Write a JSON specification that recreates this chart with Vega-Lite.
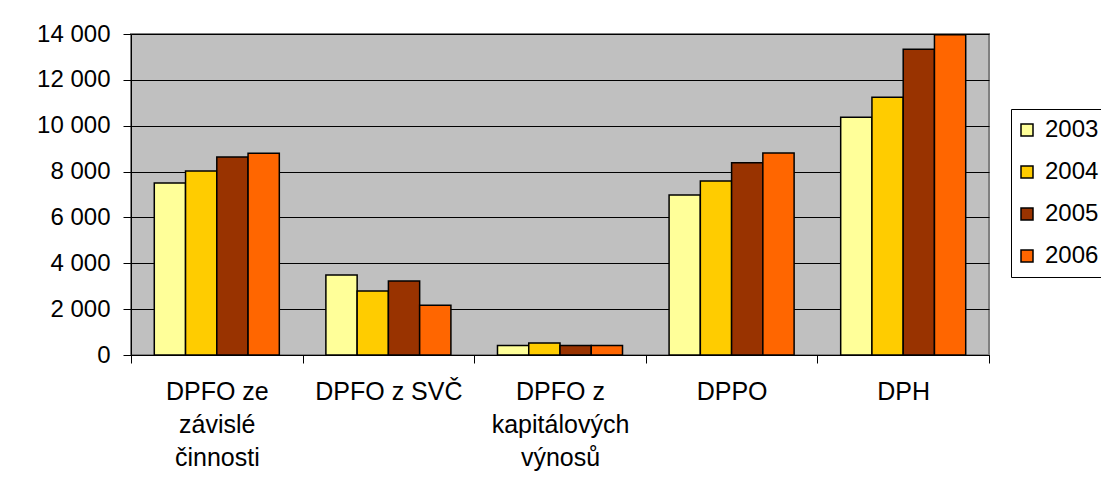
{
  "$schema": "https://vega.github.io/schema/vega-lite/v6.json",
  "width": 858,
  "height": 321,
  "autosize": {"type": "none"},
  "padding": {"left": 131, "top": 34, "right": 112, "bottom": 144},
  "background": "#ffffff",
  "data": {
    "values": [
      {"dan": "DPFO ze závislé činnosti", "rok": "2003", "hodnota": 7500},
      {"dan": "DPFO ze závislé činnosti", "rok": "2004", "hodnota": 8030},
      {"dan": "DPFO ze závislé činnosti", "rok": "2005", "hodnota": 8640},
      {"dan": "DPFO ze závislé činnosti", "rok": "2006", "hodnota": 8800},
      {"dan": "DPFO z SVČ", "rok": "2003", "hodnota": 3490},
      {"dan": "DPFO z SVČ", "rok": "2004", "hodnota": 2790},
      {"dan": "DPFO z SVČ", "rok": "2005", "hodnota": 3230},
      {"dan": "DPFO z SVČ", "rok": "2006", "hodnota": 2170},
      {"dan": "DPFO z kapitálových výnosů", "rok": "2003", "hodnota": 410},
      {"dan": "DPFO z kapitálových výnosů", "rok": "2004", "hodnota": 520},
      {"dan": "DPFO z kapitálových výnosů", "rok": "2005", "hodnota": 410},
      {"dan": "DPFO z kapitálových výnosů", "rok": "2006", "hodnota": 410},
      {"dan": "DPPO", "rok": "2003", "hodnota": 6980},
      {"dan": "DPPO", "rok": "2004", "hodnota": 7590},
      {"dan": "DPPO", "rok": "2005", "hodnota": 8380},
      {"dan": "DPPO", "rok": "2006", "hodnota": 8810},
      {"dan": "DPH", "rok": "2003", "hodnota": 10370},
      {"dan": "DPH", "rok": "2004", "hodnota": 11240},
      {"dan": "DPH", "rok": "2005", "hodnota": 13330},
      {"dan": "DPH", "rok": "2006", "hodnota": 13970}
    ]
  },
  "mark": {"type": "bar", "stroke": "#000000", "strokeWidth": 1.5, "strokeJoin": "miter"},
  "encoding": {
    "x": {
      "field": "dan",
      "type": "nominal",
      "sort": null,
      "scale": {"paddingInner": 0, "paddingOuter": 0},
      "axis": {
        "title": null,
        "labelAngle": 0,
        "tickBand": "extent",
        "domainColor": "#000000",
        "tickColor": "#000000",
        "tickSize": 8,
        "labelFont": "Liberation Sans",
        "labelFontSize": 25,
        "labelColor": "#000000",
        "labelPadding": 16,
        "labelLineHeight": 33,
        "labelBaseline": "top",
        "labelExpr": "datum.value == 'DPFO ze závislé činnosti' ? ['DPFO ze', 'závislé', 'činnosti'] : datum.value == 'DPFO z kapitálových výnosů' ? ['DPFO z', 'kapitálových', 'výnosů'] : datum.value"
      }
    },
    "xOffset": {
      "field": "rok",
      "type": "nominal",
      "scale": {"paddingInner": 0, "paddingOuter": 0.745}
    },
    "y": {
      "field": "hodnota",
      "type": "quantitative",
      "scale": {"domain": [0, 14000], "nice": false},
      "axis": {
        "title": null,
        "values": [0, 2000, 4000, 6000, 8000, 10000, 12000, 14000],
        "format": ",d",
        "labelExpr": "replace(datum.label, ',', ' ')",
        "domainColor": "#000000",
        "tickColor": "#000000",
        "tickSize": 8,
        "gridColor": "#000000",
        "gridWidth": 1,
        "gridOpacity": 1,
        "labelFont": "Liberation Sans",
        "labelFontSize": 24,
        "labelColor": "#000000",
        "labelPadding": 13
      }
    },
    "color": {
      "field": "rok",
      "type": "nominal",
      "scale": {"domain": ["2003", "2004", "2005", "2006"], "range": ["#FFFF99", "#FFCC00", "#993300", "#FF6600"]},
      "legend": {
        "title": null,
        "orient": "none",
        "legendX": 880,
        "legendY": 75,
        "symbolType": "square",
        "symbolSize": 144,
        "symbolOffset": -5,
        "symbolStrokeColor": "#000000",
        "symbolStrokeWidth": 1.5,
        "symbolOpacity": 1,
        "labelFont": "Liberation Sans",
        "labelFontSize": 24,
        "labelColor": "#000000",
        "labelOffset": 6,
        "rowPadding": 18,
        "padding": 9,
        "strokeColor": "#000000",
        "fillColor": "#ffffff",
        "cornerRadius": 0
      }
    }
  },
  "config": {
    "view": {"fill": "#C0C0C0", "stroke": "#808080", "strokeWidth": 2},
    "axis": {"domainWidth": 1, "tickWidth": 1}
  }
}
